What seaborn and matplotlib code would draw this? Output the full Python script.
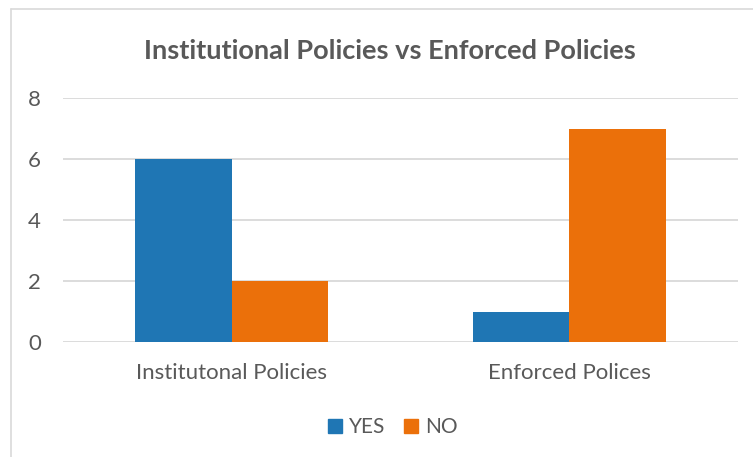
import matplotlib
matplotlib.use("Agg")
import matplotlib.pyplot as plt
import matplotlib.patches as mpatches
import seaborn as sns
import pandas as pd

categories = ["Institutonal Policies", "Enforced Polices"]
series_names = ["YES", "NO"]
yes_values = [6, 1]
no_values = [2, 7]
y_ticks = [0, 2, 4, 6, 8]

title = "Institutional Policies vs Enforced Policies"
colors = {"YES": "#1F76B4", "NO": "#EB700A"}
text_grey = "#595959"
grid_grey = "#D9D9D9"

df = pd.DataFrame({
    "category": categories * 2,
    "series": [series_names[0]] * len(categories) + [series_names[1]] * len(categories),
    "value": yes_values + no_values,
})

sns.set_theme(style="white")
plt.rcParams["font.family"] = ["Lato", "DejaVu Sans"]

W, H = 753, 457
fig = plt.figure(figsize=(W / 100, H / 100), dpi=100)
ax = fig.add_axes([63 / W, 1 - 342 / H, (738 - 63) / W, (342 - 98) / H])

sns.barplot(data=df, x="category", y="value", hue="series", order=categories,
            hue_order=series_names, palette=colors, width=0.572, gap=0,
            saturation=1, linewidth=0, ax=ax, legend=False)

ax.set_xlim(-0.5, 1.5)
ax.set_ylim(0, 8)
ax.set_yticks(y_ticks)
ax.set_yticklabels([str(t) for t in y_ticks])
ax.yaxis.grid(True, color=grid_grey, linewidth=1.3)
ax.set_axisbelow(True)
for s in ax.spines.values():
    s.set_visible(False)
ax.tick_params(axis="both", length=0, labelsize=16, labelcolor=text_grey)
ax.tick_params(axis="y", pad=16)
ax.tick_params(axis="x", pad=15)
ax.set_xlabel("")
ax.set_ylabel("")
for lbl in ax.get_yticklabels():
    lbl.set_horizontalalignment("right")

fig.text(390 / W, 1 - 51 / H, title, ha="center", va="center",
         fontsize=19.5, fontweight="bold", color=text_grey)

# chart frame (top and left edges visible)
fig.add_artist(plt.Line2D([10.5 / W, 10.5 / W], [0, 1 - 9 / H],
                          transform=fig.transFigure, color=grid_grey, linewidth=1.2))
fig.add_artist(plt.Line2D([10.5 / W, 1], [1 - 9 / H, 1 - 9 / H],
                          transform=fig.transFigure, color=grid_grey, linewidth=1.2))

handles = [mpatches.Patch(color=colors[s], label=s) for s in series_names]
fig.legend(handles=handles, loc="center", bbox_to_anchor=(393 / W, 1 - 427 / H),
           ncol=2, frameon=False, fontsize=15, labelcolor=text_grey,
           handlelength=0.65, handleheight=0.65, handletextpad=0.35, columnspacing=0.9)

fig.savefig("out.png", dpi=100)
